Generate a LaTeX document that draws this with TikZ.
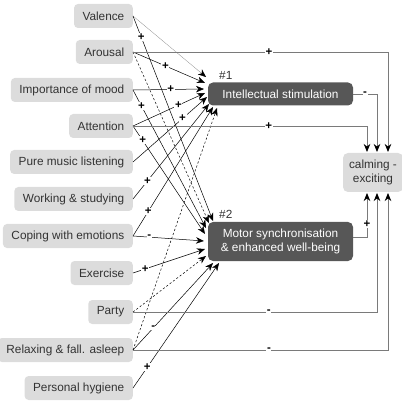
\documentclass[tikz,border=0pt]{standalone}
\usepackage{fontspec}
\setmainfont{Liberation Sans}
\usetikzlibrary{arrows.meta}
\definecolor{boxlight}{HTML}{DCDCDC}
\definecolor{boxdark}{HTML}{575757}
\definecolor{txt}{HTML}{333333}
\definecolor{wire}{HTML}{7A7A7A}
\newcommand{\labfont}{\fontsize{11.8}{14.5}\selectfont}

\begin{document}
\begin{tikzpicture}[x=1pt,y=-1pt,
  varbox/.style={fill=boxlight, rounded corners=4pt, anchor=east, minimum height=24pt,
    inner xsep=8.5pt, inner ysep=0pt, text=txt, font=\labfont},
  factor/.style={fill=boxdark, rounded corners=5pt, text=white, font=\labfont,
    align=center, minimum width=145pt, inner sep=0pt},
  outcome/.style={fill=boxlight, rounded corners=5pt, text=txt, font=\labfont,
    align=center, minimum width=60pt, minimum height=39pt, inner sep=0pt},
  tag/.style={text=txt, font=\labfont, inner sep=0pt},
  tip/.style={-{Stealth[length=8pt,width=6.5pt,inset=2.5pt,black]}},
  link/.style={tip, line width=0.5pt, black},
  dlink/.style={link, dash pattern=on 2.2pt off 2pt},
  faint/.style={tip, line width=0.3pt, black!45},
  route/.style={tip, line width=0.9pt, wire},
  sign/.style={fill=white, inner sep=0.6pt, text=black, font=\bfseries\fontsize{11.5}{11.5}\selectfont}
]
\useasboundingbox (0,0) rectangle (402,401);

% predictor variables
\node[varbox] (val) at (133,16)  {Valence};
\node[varbox] (aro) at (133,52)  {Arousal};
\node[varbox] (imp) at (133,90)  {Importance of mood};
\node[varbox] (att) at (133,126) {Attention};
\node[varbox] (pml) at (133,162) {Pure music listening};
\node[varbox] (wst) at (133,199) {Working \& studying};
\node[varbox] (cop) at (133,236) {Coping with emotions};
\node[varbox] (exe) at (133,273) {Exercise};
\node[varbox] (par) at (133,312) {Party};
\node[varbox] (rel) at (133,350) {Relaxing \& fall. asleep};
\node[varbox] (hyg) at (133,388) {Personal hygiene};

% factors and outcome
\node[factor, minimum height=23pt] (f1) at (280.5,94) {Intellectual stimulation};
\node[factor, minimum height=39pt] (f2) at (280.5,241.5) {Motor synchronisation\\\& enhanced well-being};
\node[tag, anchor=west] (h1) at (219,75)  {\#1};
\node[tag, anchor=west] (h2) at (219,214) {\#2};
\node[outcome] (cal) at (373,172.5) {calming -\\exciting};

% arrow tips at factor #1
\coordinate (a1) at (206,77);
\coordinate (b1) at (205,83);
\coordinate (c1) at (204,89);
\coordinate (d1) at (205,93);
\coordinate (e1) at (207,97);
\coordinate (g1) at (209,104);
\coordinate (k1) at (213,107);
\coordinate (m1) at (217,108);
% arrow tips at factor #2
\coordinate (a2) at (213,221);
\coordinate (b2) at (209,223);
\coordinate (c2) at (206,228);
\coordinate (d2) at (205,234);
\coordinate (k2) at (204,241);
\coordinate (n2) at (205,249);
\coordinate (p2) at (206,256);
\coordinate (r2) at (213,263);
\coordinate (s2) at (219,263);
% arrow tips at the outcome
\coordinate (u1) at (367,152);
\coordinate (u2) at (377,152);
\coordinate (u3) at (388,152);
\coordinate (l1) at (367,193);
\coordinate (l2) at (377,193);
\coordinate (l3) at (388,193);

% links into factor #1
\draw[faint] (val.east) -- (a1);
\draw[link] (aro.east) -- node[sign,pos=0.45]{+} (b1);
\draw[link] (imp.east) -- node[sign,pos=0.53]{+} (c1);
\draw[link] (att.east) -- node[sign,pos=0.63]{+} (d1);
\draw[link] (pml.east) -- node[sign,pos=0.67]{+} (e1);
\draw[link] (wst.east) -- node[sign,pos=0.19]{+} (g1);
\draw[link] (cop.east) -- node[sign,pos=0.19]{+} (k1);
\draw[dlink] (rel.east) -- (m1);

% links into factor #2
\draw[link] (val.east) -- node[sign,pos=0.102]{+} (a2);
\draw[dlink] (aro.east) -- (b2);
\draw[link] (imp.east) -- node[sign,pos=0.116]{+} (c2);
\draw[link] (att.east) -- node[sign,pos=0.134]{+} (d2);
\draw[link] (cop.east) -- node[sign,pos=0.23]{-} (k2);
\draw[link] (exe.east) -- node[sign,pos=0.17]{+} (n2);
\draw[dlink] (par.east) -- (p2);
\draw[link] (rel.east) -- node[sign,pos=0.253]{-} (r2);
\draw[link] (hyg.east) -- node[sign,pos=0.165]{+} (s2);

% links into the outcome
\draw[route] (aro.east) -- node[sign,pos=0.533]{+} (aro.east -| u3) -- (u3);
\draw[route] (att.east) -- node[sign,pos=0.58]{+} (att.east -| u1) -- (u1);
\draw[route] (f1.east) -- node[sign,pos=0.5]{-} (f1.east -| u2) -- (u2);
\draw[route] ([yshift=4.5pt]f2.east) -- ([yshift=4.5pt]f2.east -| l1) -- node[sign,pos=0.3]{+} (l1);
\draw[route] (par.east) -- node[sign,pos=0.557]{-} (par.east -| l2) -- (l2);
\draw[route] (rel.east) -- node[sign,pos=0.533]{-} (rel.east -| l3) -- (l3);
\end{tikzpicture}
\end{document}
